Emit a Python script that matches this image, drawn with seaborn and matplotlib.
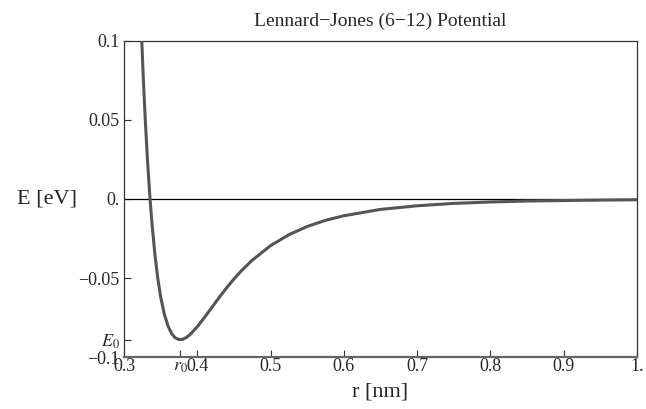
"""
Lennard-Jones (6-12) potential curve, values read off the reference picture
"""
import pandas as pd
import matplotlib
matplotlib.use("Agg")
import matplotlib.pyplot as plt
import seaborn as sns

# Data (r in nm, E in eV)
r_nm = [0.323, 0.326, 0.329, 0.332, 0.335, 0.338, 0.342, 0.346, 0.350, 0.355,
        0.360, 0.365, 0.370, 0.375, 0.380, 0.385, 0.390, 0.400, 0.410, 0.420,
        0.430, 0.440, 0.450, 0.460, 0.475, 0.500, 0.525, 0.550, 0.575, 0.600,
        0.650, 0.700, 0.750, 0.800, 0.850, 0.900, 0.950, 1.000]
e_ev = [0.1144, 0.0796, 0.0499, 0.0246, 0.0032, -0.0148, -0.0345, -0.0500, -0.0619, -0.0729,
        -0.0804, -0.0852, -0.0879, -0.0889, -0.0888, -0.0876, -0.0858, -0.0808, -0.0748, -0.0685,
        -0.0622, -0.0562, -0.0506, -0.0455, -0.0387, -0.0295, -0.0226, -0.0174, -0.0135, -0.0106,
        -0.0066, -0.0043, -0.0028, -0.0019, -0.0013, -0.0010, -0.0007, -0.0005]

r0 = 0.3766
e0 = -0.0889

x_ticks = [0.3, r0, 0.4, 0.5, 0.6, 0.7, 0.8, 0.9, 1.0]
x_labels = ["0.3", "$r_0$", "0.4", "0.5", "0.6", "0.7", "0.8", "0.9", "1."]
y_ticks = [-0.1, e0, -0.05, 0.0, 0.05, 0.1]
y_labels = ["\u22120.1", "$E_0$", "\u22120.05", "0.", "0.05", "0.1"]

# Settings
sns.set_style("white")
plt.rcParams["font.family"] = ["Liberation Serif", "DejaVu Serif"]
plt.rcParams["mathtext.fontset"] = "stix"

df = pd.DataFrame({"r": r_nm, "E": e_ev})

fig = plt.figure(figsize=(6.46, 4.09), dpi=100)
ax = fig.add_axes([0.192, 0.127, 0.794, 0.773])

ax.axhline(0, color="black", lw=0.9, zorder=1)
sns.lineplot(data=df, x="r", y="E", ax=ax, color="#555555", lw=2.2,
             estimator=None, sort=False, zorder=3)

ax.set_xlim(0.3, 1.0)
ax.set_ylim(-0.1, 0.1)
ax.set_xticks(x_ticks)
ax.set_xticklabels(x_labels)
ax.set_yticks(y_ticks)
ax.set_yticklabels(y_labels)
ax.tick_params(axis="both", direction="in", length=5, width=0.8, labelsize=13,
               color="#333333", bottom=True, left=True, top=False, right=False)
ax.tick_params(axis="x", pad=1)
ax.tick_params(axis="y", pad=3)

for side, sp in ax.spines.items():
    sp.set_visible(True)
    sp.set_color("#333333")
    sp.set_linewidth(0.9)
ax.spines["bottom"].set_color("#666666")
ax.spines["bottom"].set_linewidth(1.6)

ax.set_title("Lennard\u2212Jones (6\u221212) Potential", fontsize=14, pad=11)
ax.set_xlabel("r [nm]", fontsize=16, labelpad=5)
ax.set_ylabel("E [eV]", fontsize=16, rotation=0, ha="right", va="center")
ax.yaxis.set_label_coords(-0.092, 0.5)

fig.savefig("out.png", dpi=100)
